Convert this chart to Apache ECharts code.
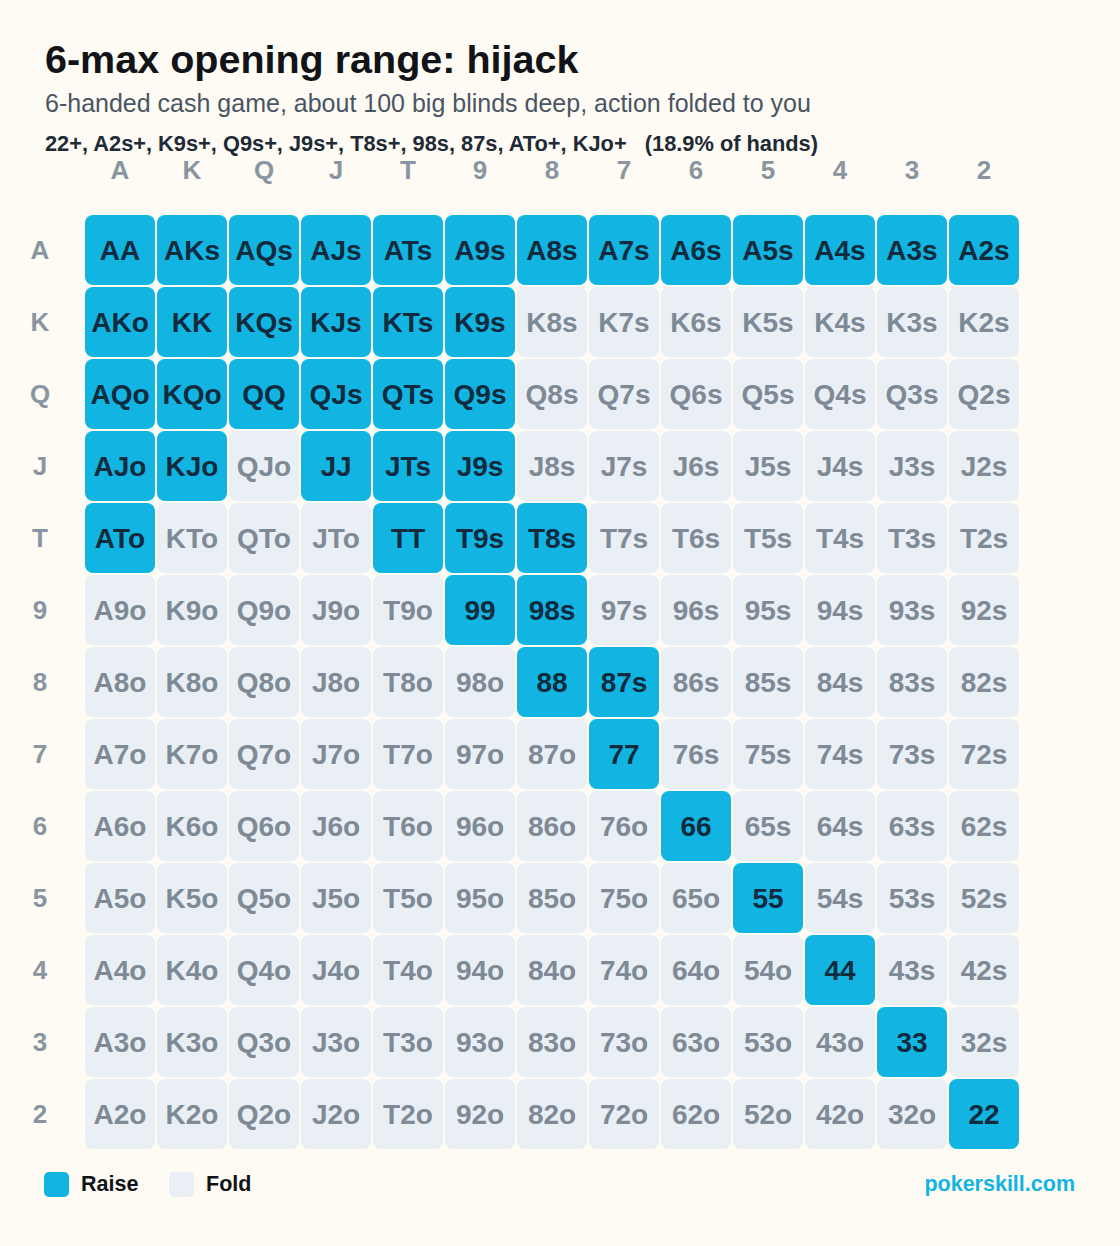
<!DOCTYPE html>
<html>
<head>
<meta charset="utf-8">
<title>6-max opening range: hijack</title>
<script src="https://cdn.jsdelivr.net/npm/echarts@6/dist/echarts.min.js"></script>
<style>
  html, body { margin: 0; padding: 0; background: #fdfbf3; }
  #chart { width: 1120px; height: 1246px; }
</style>
</head>
<body>
<div id="chart"></div>
<script>
/* ------------------------------------------------------------------ */
/*                 Hijack opening range - 13x13 hand grid              */
/* ------------------------------------------------------------------ */

const ranks = ['A', 'K', 'Q', 'J', 'T', '9', '8', '7', '6', '5', '4', '3', '2'];

// hands the hijack opens
const raiseHands = [
  'AA', 'AKs', 'AQs', 'AJs', 'ATs', 'A9s', 'A8s', 'A7s', 'A6s', 'A5s', 'A4s', 'A3s', 'A2s',
  'AKo', 'KK', 'KQs', 'KJs', 'KTs', 'K9s',
  'AQo', 'KQo', 'QQ', 'QJs', 'QTs', 'Q9s',
  'AJo', 'KJo', 'JJ', 'JTs', 'J9s',
  'ATo', 'TT', 'T9s', 'T8s',
  '99', '98s',
  '88', '87s',
  '77', '66', '55', '44', '33', '22'
];

const titleText = '6-max opening range: hijack';
const subtitleText = '6-handed cash game, about 100 big blinds deep, action folded to you';
const rangeText = '22+, A2s+, K9s+, Q9s+, J9s+, T8s+, 98s, 87s, ATo+, KJo+   (18.9% of hands)';
const legendItems = ['Raise', 'Fold'];
const brandText = 'pokerskill.com';

const colors = {
  raise: '#12b4e2',
  fold: '#e9eff4',
  raiseText: '#0f2b3d',
  foldText: '#7f8a97',
  axis: '#8a95a2',
  bg: '#fdfbf3'
};

const FONT = '"Liberation Sans", Arial, Helvetica, sans-serif';

// build [col, row, label, isRaise]
const handName = (r, c) => {
  if (r === c) return ranks[r] + ranks[c];
  if (c > r) return ranks[r] + ranks[c] + 's';
  return ranks[c] + ranks[r] + 'o';
};

const cells = [];
ranks.forEach((_, r) => {
  ranks.forEach((__, c) => {
    const name = handName(r, c);
    cells.push([c, r, name, raiseHands.includes(name) ? 1 : 0]);
  });
});

const chart = echarts.init(document.getElementById('chart'), null, { renderer: 'svg' });

const renderCell = (params, api) => {
  const p = api.coord([api.value(0), api.value(1)]);
  const size = api.size([1, 1]);
  const w = size[0] - 2;
  const h = size[1] - 2;
  const raised = api.value(3) === 1;
  return {
    type: 'group',
    children: [
      {
        type: 'rect',
        shape: { x: p[0] - w / 2, y: p[1] - h / 2, width: w, height: h, r: 8 },
        style: { fill: raised ? colors.raise : colors.fold }
      },
      {
        type: 'text',
        x: p[0],
        y: p[1],
        style: {
          text: cells[params.dataIndex][2],
          align: 'center',
          verticalAlign: 'middle',
          fontFamily: FONT,
          fontWeight: 'bold',
          fontSize: 28,
          fill: raised ? colors.raiseText : colors.foldText
        }
      }
    ]
  };
};

const option = {
  backgroundColor: colors.bg,
  animation: false,
  grid: { left: 84, top: 214, width: 936, height: 936, containLabel: false },
  xAxis: {
    type: 'category',
    position: 'top',
    data: ranks,
    axisLine: { show: false },
    axisTick: { show: false },
    splitLine: { show: false },
    axisLabel: {
      margin: 31,
      color: colors.axis,
      fontFamily: FONT,
      fontWeight: 'bold',
      fontSize: 26
    }
  },
  yAxis: {
    type: 'category',
    inverse: true,
    data: ranks,
    axisLine: { show: false },
    axisTick: { show: false },
    splitLine: { show: false },
    axisLabel: {
      margin: 44,
      align: 'center',
      color: colors.axis,
      fontFamily: FONT,
      fontWeight: 'bold',
      fontSize: 26
    }
  },
  series: [
    {
      type: 'custom',
      renderItem: renderCell,
      data: cells,
      encode: { x: 0, y: 1 }
    }
  ],
  graphic: [
    {
      type: 'text', left: 45, top: 39,
      style: { text: titleText, fontFamily: FONT, fontWeight: 'bold', fontSize: 39.5, fill: '#111318' }
    },
    {
      type: 'text', left: 45, top: 90,
      style: { text: subtitleText, fontFamily: FONT, fontSize: 25, fill: '#4a5563' }
    },
    {
      type: 'text', left: 45, top: 132,
      style: { text: rangeText, fontFamily: FONT, fontWeight: 'bold', fontSize: 21.8, fill: '#1f2a37' }
    },
    {
      type: 'rect', left: 44, top: 1172,
      shape: { width: 25, height: 25, r: 5 },
      style: { fill: colors.raise }
    },
    {
      type: 'text', left: 81, top: 1173,
      style: { text: legendItems[0], fontFamily: FONT, fontWeight: 'bold', fontSize: 21.5, fill: '#111318' }
    },
    {
      type: 'rect', left: 169, top: 1172,
      shape: { width: 25, height: 25, r: 5 },
      style: { fill: colors.fold }
    },
    {
      type: 'text', left: 206, top: 1173,
      style: { text: legendItems[1], fontFamily: FONT, fontWeight: 'bold', fontSize: 21.5, fill: '#111318' }
    },
    {
      type: 'text', right: 45, top: 1173,
      style: { text: brandText, fontFamily: FONT, fontWeight: 'bold', fontSize: 21.5, fill: colors.raise }
    }
  ]
};

chart.setOption(option);
</script>
</body>
</html>
